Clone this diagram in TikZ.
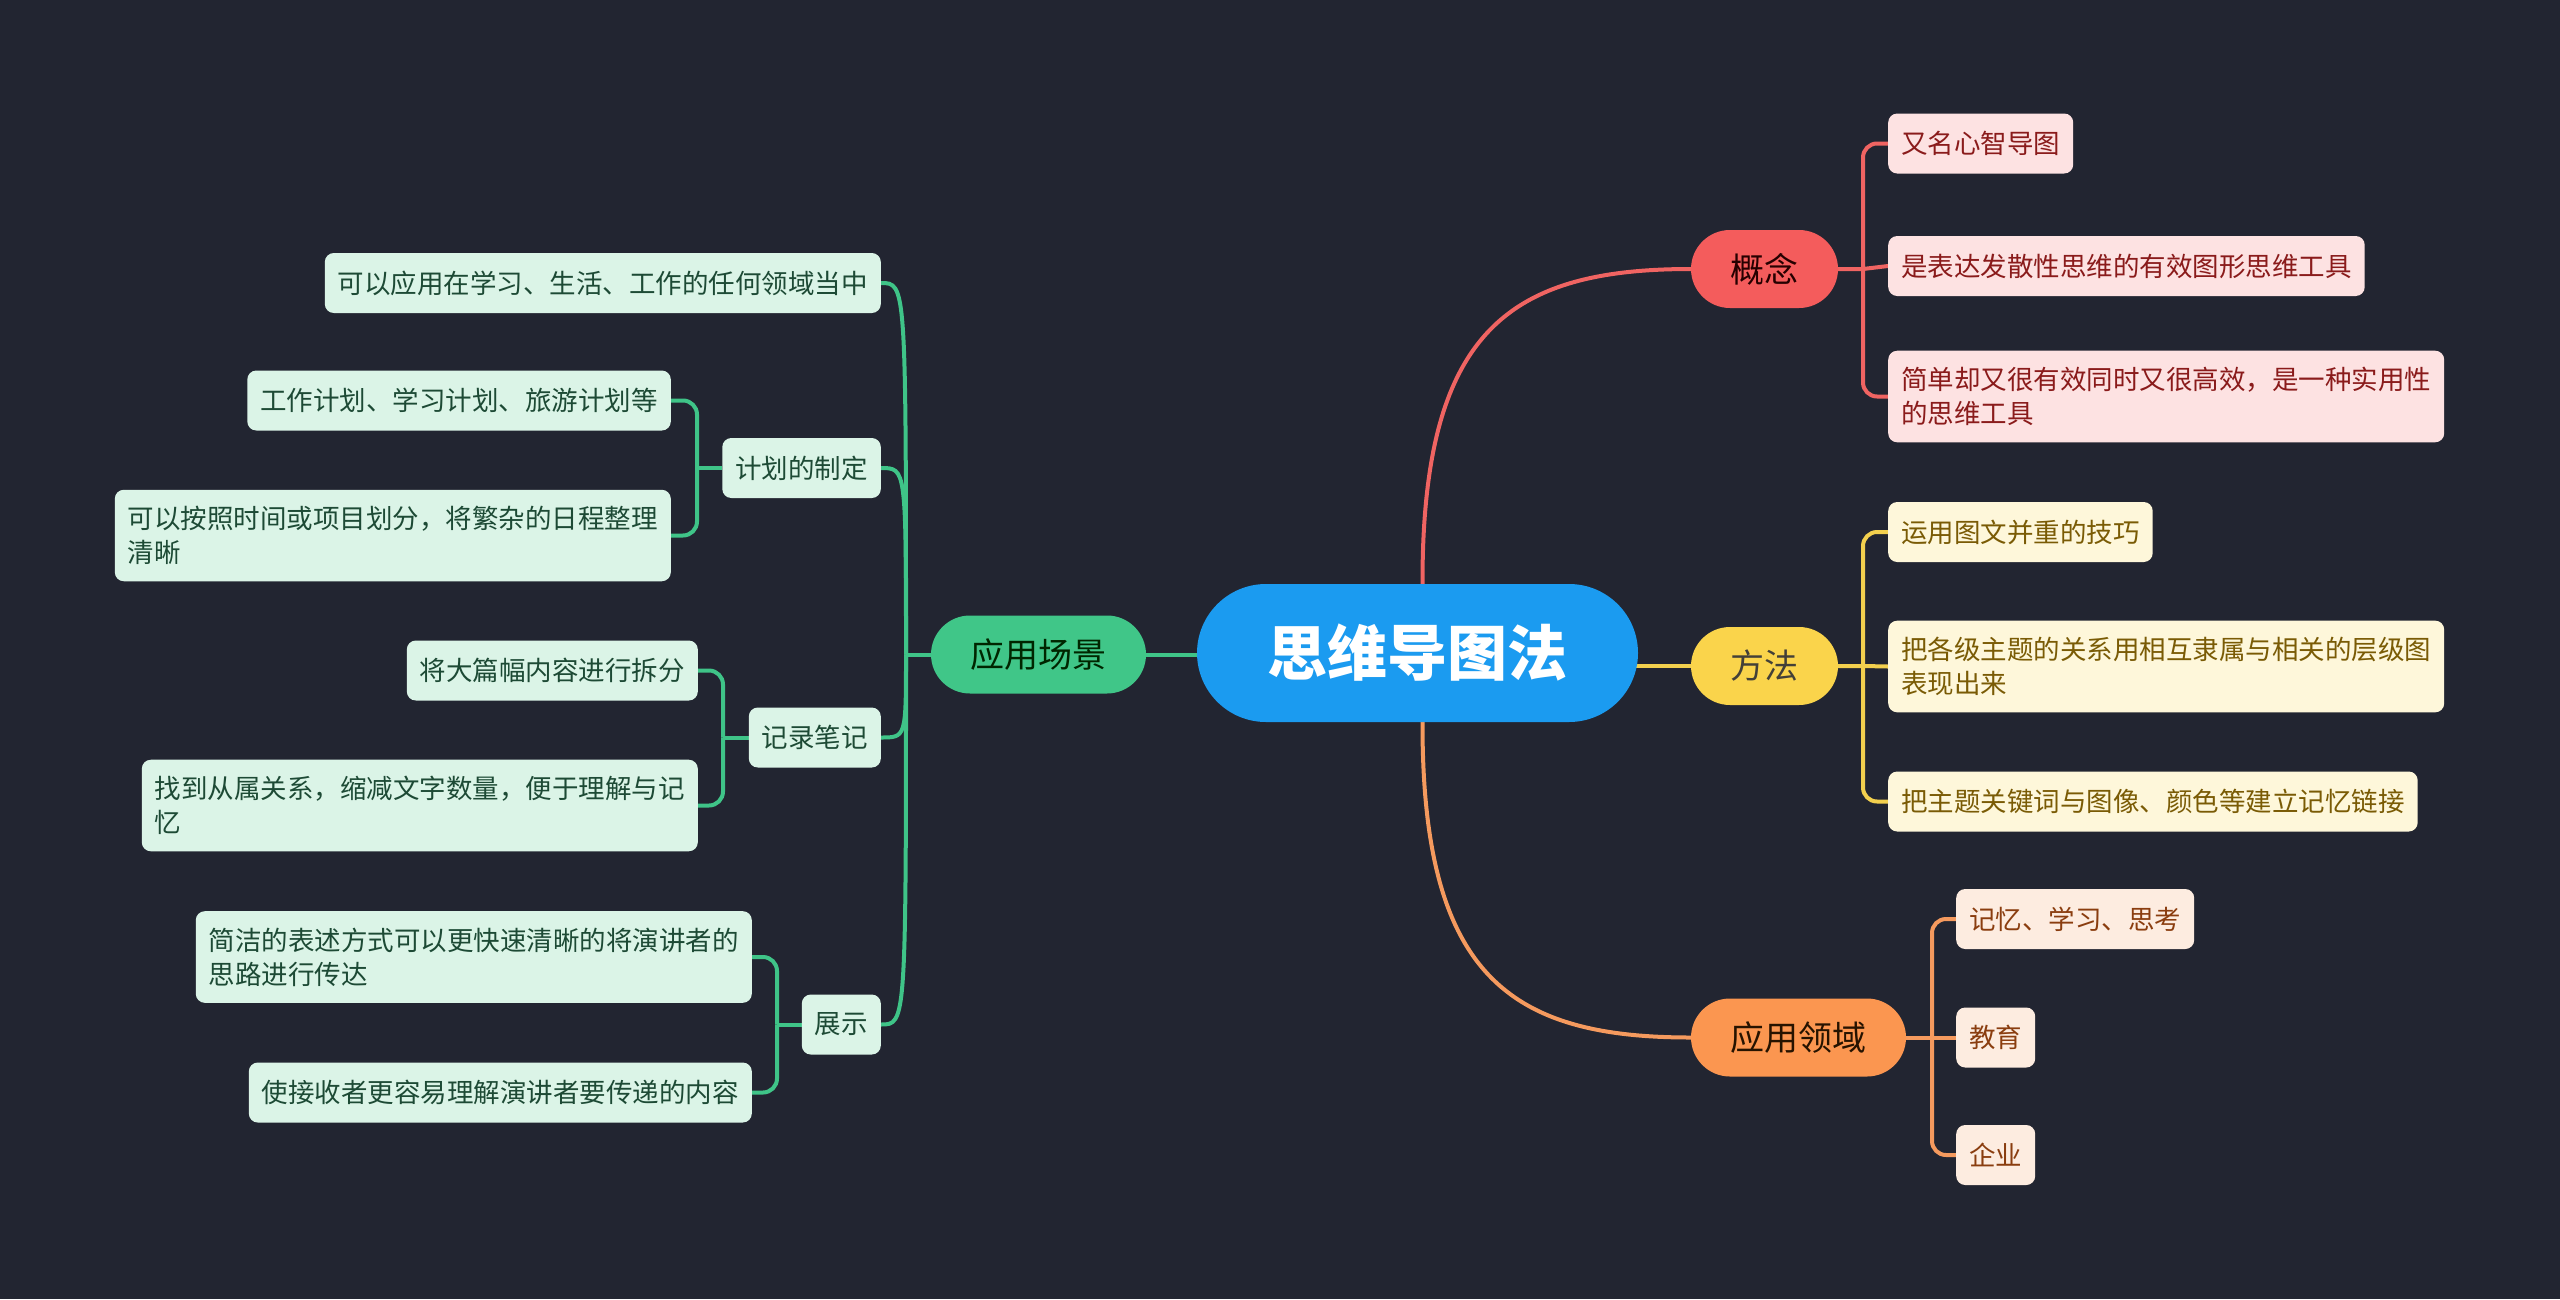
\documentclass[tikz,border=0pt]{standalone}
\usepackage{fontspec}
\setmainfont{Noto Sans CJK SC}
\usetikzlibrary{backgrounds}
\definecolor{bg}{HTML}{222531}
\definecolor{cblue}{HTML}{1B9BF0}
\definecolor{cred}{HTML}{F45C5C}
\definecolor{cyellow}{HTML}{FAD44B}
\definecolor{corange}{HTML}{FB9650}
\definecolor{cgreen}{HTML}{40C688}
\definecolor{lred}{HTML}{F06462}
\definecolor{lyellow}{HTML}{F3D04E}
\definecolor{lorange}{HTML}{F59A5E}
\definecolor{lgreen}{HTML}{3FC488}
\definecolor{rleaf}{HTML}{FDE2E2}
\definecolor{rtext}{HTML}{8A1B1B}
\definecolor{yleaf}{HTML}{FEF7DA}
\definecolor{ytext}{HTML}{7A5B05}
\definecolor{oleaf}{HTML}{FDECE0}
\definecolor{otext}{HTML}{8A3D0F}
\definecolor{gleaf}{HTML}{DBF4E7}
\definecolor{gtext}{HTML}{1D4A35}
\begin{document}
\begin{tikzpicture}[x=1pt,y=-1pt,
  pill/.style={rounded corners=39pt, minimum height=78pt, inner xsep=0pt, inner ysep=0pt,
    font=\fontsize{34}{40}\selectfont},
  leaf/.style={rounded corners=9pt, inner xsep=13pt, inner ysep=16.5pt, minimum height=60pt,
    align=left, font=\fontsize{26.5}{34}\selectfont},
  conn/.style={line width=4pt},
  spine/.style={line width=4pt, rounded corners=14pt}]

% central
\node[fill=cblue, text=white, rounded corners=69pt, minimum width=441pt, minimum height=138pt,
  inner sep=0pt, font=\fontsize{60}{66}\selectfont\bfseries] (central) at (1417.5,653) {思维导图法};

% level 1
\node[pill, fill=cred, text=black!85!red, minimum width=147pt] (gn) at (1764.5,269) {概念};
\node[pill, fill=cyellow, text=black!85!yellow, minimum width=147pt] (ff) at (1764.5,666) {方法};
\node[pill, fill=corange, text=black!85!orange, minimum width=215pt] (ly) at (1798.5,1037.5) {应用领域};
\node[pill, fill=cgreen, text=black!85!green, minimum width=215pt] (cj) at (1038.5,654.5) {应用场景};

% 概念 children
\node[leaf, fill=rleaf, text=rtext, anchor=west] (r1) at (1888,143.5) {又名心智导图};
\node[leaf, fill=rleaf, text=rtext, anchor=west] (r2) at (1888,266) {是表达发散性思维的有效图形思维工具};
\node[leaf, fill=rleaf, text=rtext, anchor=west] (r3) at (1888,396.5) {简单却又很有效同时又很高效，是一种实用性\\的思维工具};

% 方法 children
\node[leaf, fill=yleaf, text=ytext, anchor=west] (y1) at (1888,532) {运用图文并重的技巧};
\node[leaf, fill=yleaf, text=ytext, anchor=west] (y2) at (1888,666.5) {把各级主题的关系用相互隶属与相关的层级图\\表现出来};
\node[leaf, fill=yleaf, text=ytext, anchor=west] (y3) at (1888,801.5) {把主题关键词与图像、颜色等建立记忆链接};

% 应用领域 children
\node[leaf, fill=oleaf, text=otext, anchor=west] (o1) at (1956,919) {记忆、学习、思考};
\node[leaf, fill=oleaf, text=otext, anchor=west] (o2) at (1956,1037.5) {教育};
\node[leaf, fill=oleaf, text=otext, anchor=west] (o3) at (1956,1155) {企业};

% 应用场景 children
\node[leaf, fill=gleaf, text=gtext, anchor=east] (g1) at (881,283) {可以应用在学习、生活、工作的任何领域当中};
\node[leaf, fill=gleaf, text=gtext, anchor=east] (jh) at (881,468) {计划的制定};
\node[leaf, fill=gleaf, text=gtext, anchor=east] (jh1) at (671,400.5) {工作计划、学习计划、旅游计划等};
\node[leaf, fill=gleaf, text=gtext, anchor=east] (jh2) at (671,535.5) {可以按照时间或项目划分，将繁杂的日程整理\\清晰};
\node[leaf, fill=gleaf, text=gtext, anchor=east] (jl) at (881,737.5) {记录笔记};
\node[leaf, fill=gleaf, text=gtext, anchor=east] (jl1) at (698,670.5) {将大篇幅内容进行拆分};
\node[leaf, fill=gleaf, text=gtext, anchor=east] (jl2) at (698,805.5) {找到从属关系，缩减文字数量，便于理解与记\\忆};
\node[leaf, fill=gleaf, text=gtext, anchor=east] (zs) at (881,1024.5) {展示};
\node[leaf, fill=gleaf, text=gtext, anchor=east] (zs1) at (752,957) {简洁的表述方式可以更快速清晰的将演讲者的\\思路进行传达};
\node[leaf, fill=gleaf, text=gtext, anchor=east] (zs2) at (752,1092.5) {使接收者更容易理解演讲者要传递的内容};

% junctions
\coordinate (gnj) at (1863,269);
\coordinate (ffj) at (1863,666);
\coordinate (lyj) at (1932,1037.5);
\coordinate (cjj) at (906,654.5);
\coordinate (jhj) at (697,468);
\coordinate (jlj) at (723,737.5);
\coordinate (zsj) at (777,1024.5);

\begin{pgfonlayer}{background}
\fill[bg] (0,0) rectangle (2560,1299);
% central connectors
\draw[conn, lred] ([xshift=5pt]central.north) .. controls (1422,330) and (1510,269) .. (gn.west);
\draw[conn, lorange] ([xshift=5pt]central.south) .. controls (1422,976) and (1510,1037.5) .. (ly.west);
\draw[conn, lyellow] (central.center |- ff.west) -- (ff.west);
\draw[conn, lgreen] (central.center |- cj.east) -- (cj.east);
% 概念
\draw[conn, lred] (gn.east) -- (gnj) -- (r2.west);
\draw[spine, lred] (gnj) |- (r1.west);
\draw[spine, lred] (gnj) |- (r3.west);
% 方法
\draw[conn, lyellow] (ff.east) -- (ffj) -- (y2.west);
\draw[spine, lyellow] (ffj) |- (y1.west);
\draw[spine, lyellow] (ffj) |- (y3.west);
% 应用领域
\draw[conn, lorange] (ly.east) -- (lyj) -- (o2.west);
\draw[spine, lorange] (lyj) |- (o1.west);
\draw[spine, lorange] (lyj) |- (o3.west);
% 应用场景
\draw[conn, lgreen] (cj.west) -- (cjj);
\foreach \c in {g1,jh,jl,zs}
  \draw[conn, lgreen] (cjj) .. controls (cjj |- \c.east) .. (\c.east);
\draw[conn, lgreen] (jh.west) -- (jhj);
\draw[spine, lgreen] (jhj) |- (jh1.east);
\draw[spine, lgreen] (jhj) |- (jh2.east);
\draw[conn, lgreen] (jl.west) -- (jlj);
\draw[spine, lgreen] (jlj) |- (jl1.east);
\draw[spine, lgreen] (jlj) |- (jl2.east);
\draw[conn, lgreen] (zs.west) -- (zsj);
\draw[spine, lgreen] (zsj) |- (zs1.east);
\draw[spine, lgreen] (zsj) |- (zs2.east);
\end{pgfonlayer}
\end{tikzpicture}
\end{document}
